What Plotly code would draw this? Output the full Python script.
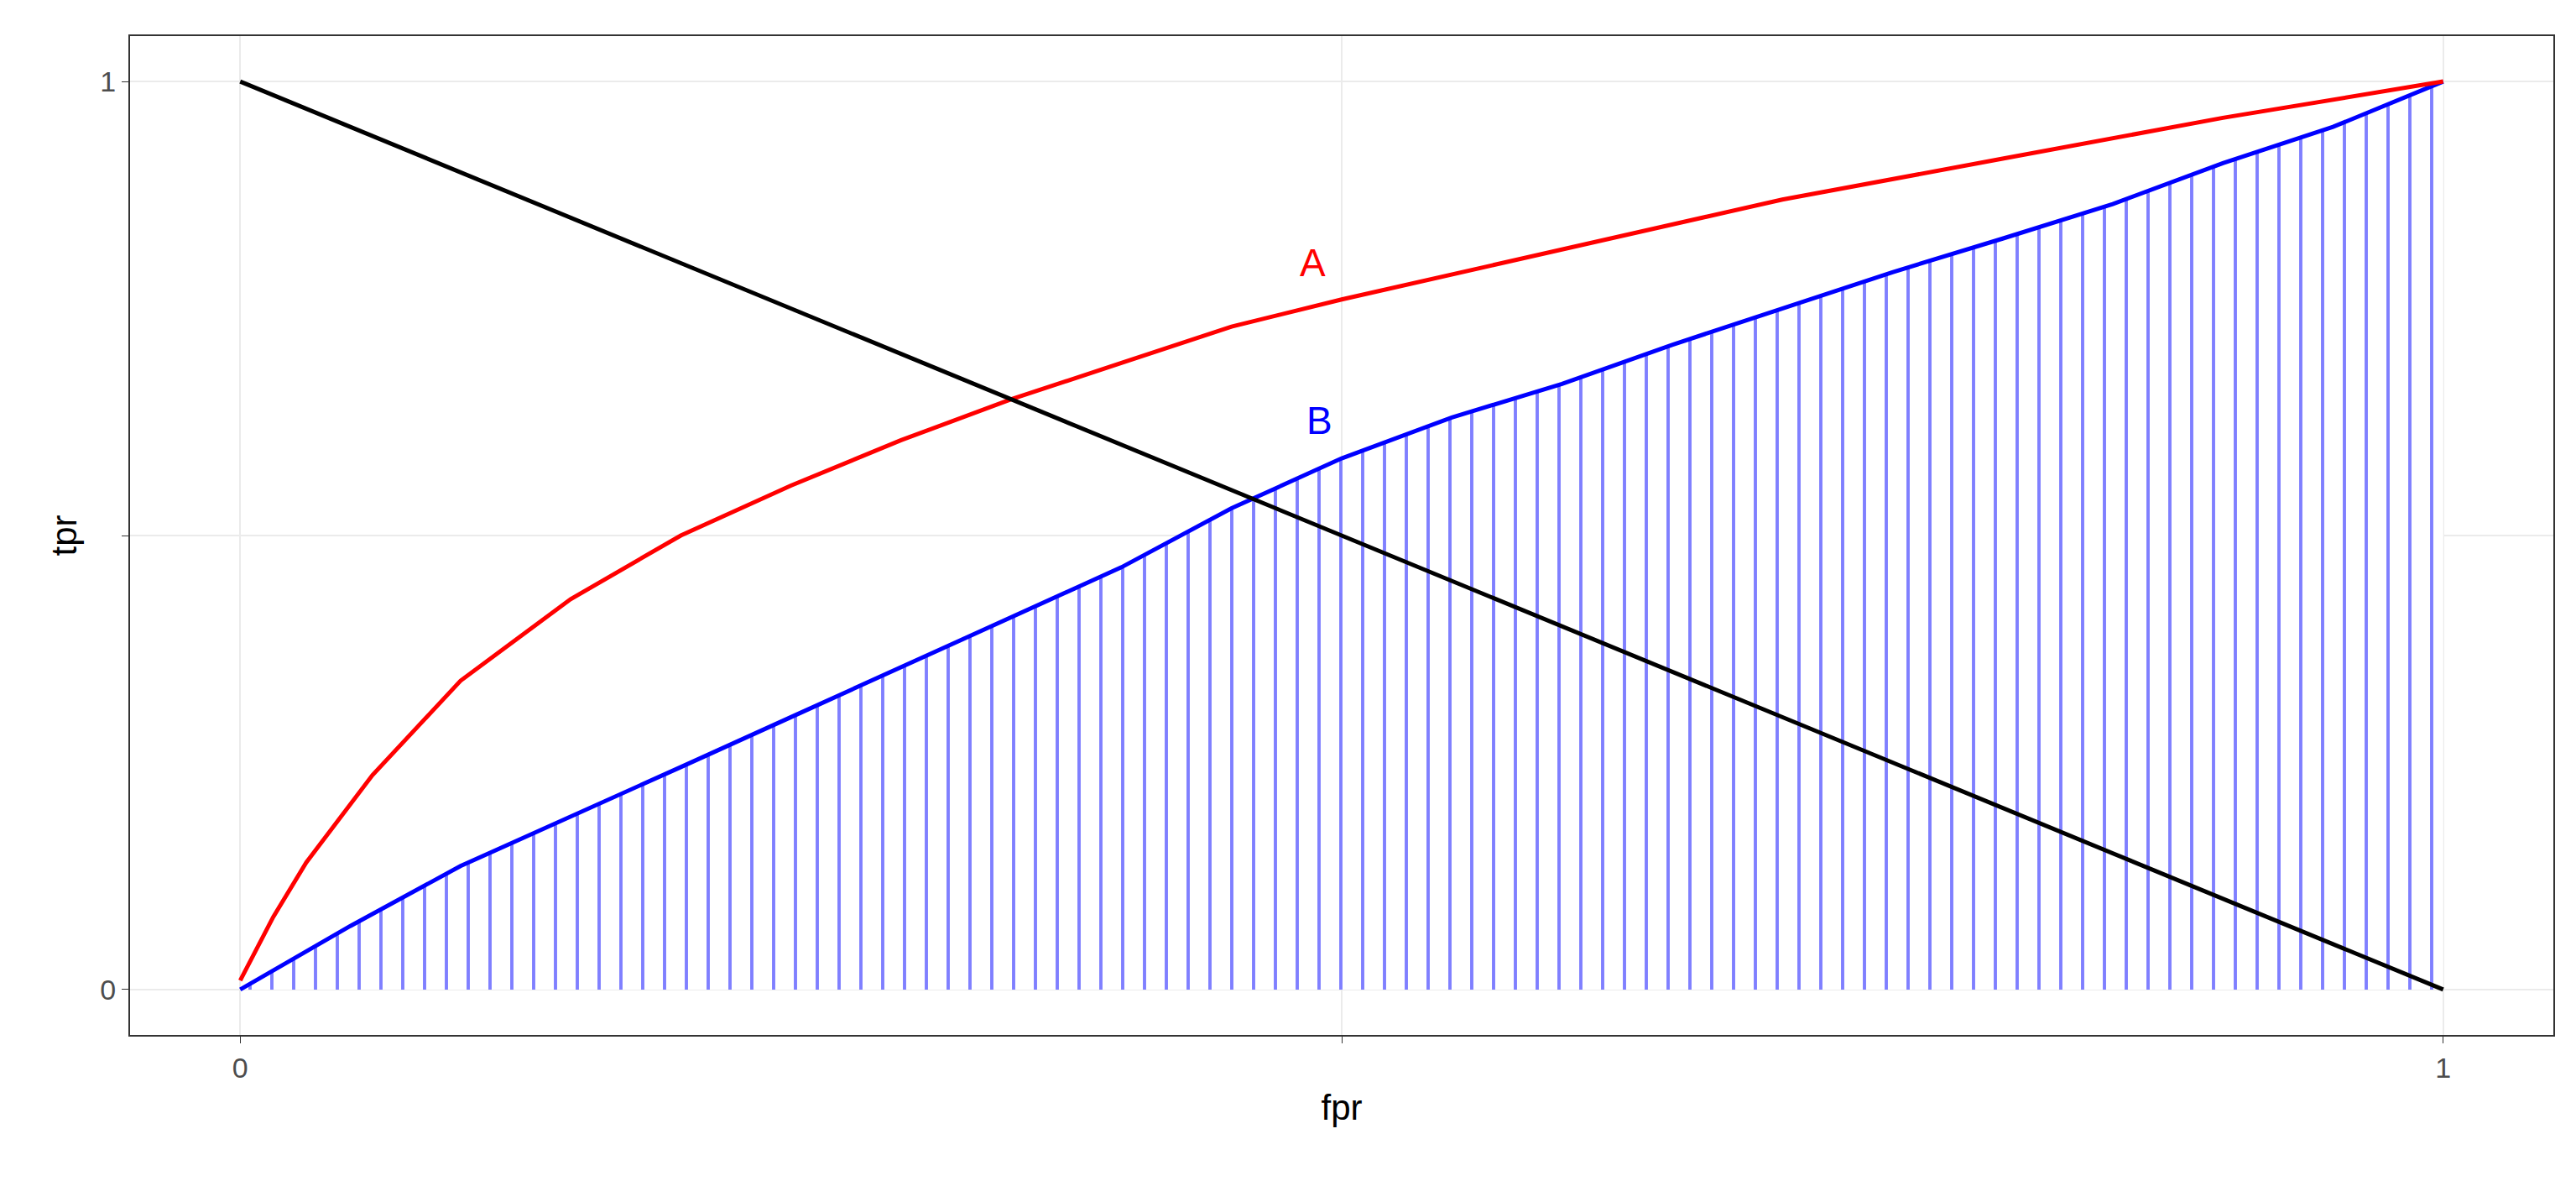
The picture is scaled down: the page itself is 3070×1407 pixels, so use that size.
import plotly.graph_objects as go

a_fpr = [0, 0.015, 0.03, 0.06, 0.1, 0.15, 0.2, 0.25, 0.3, 0.35, 0.4, 0.45, 0.5, 0.6, 0.7, 0.8, 0.9, 1.0]
a_tpr = [0.01, 0.08, 0.14, 0.236, 0.34, 0.43, 0.5, 0.555, 0.605, 0.65, 0.69, 0.73, 0.76, 0.815, 0.87, 0.915, 0.96, 1.0]
b_fpr = [0, 0.05, 0.1, 0.15, 0.2, 0.25, 0.3, 0.35, 0.4, 0.45, 0.5, 0.55, 0.6, 0.65, 0.7, 0.75, 0.8, 0.85, 0.9, 0.95, 1.0]
b_tpr = [0, 0.07, 0.136, 0.19, 0.245, 0.30, 0.355, 0.41, 0.465, 0.53, 0.585, 0.63, 0.667, 0.71, 0.75, 0.79, 0.827, 0.865, 0.91, 0.95, 1.0]
diag_x = [0, 1]
diag_y = [1, 0]
labels = [("A", 0.487, 0.80, "red"), ("B", 0.49, 0.627, "blue")]

fig = go.Figure()
fig.add_trace(go.Scatter(x=b_fpr, y=b_tpr, mode="lines", line=dict(color="blue", width=5),
                         fill="tozeroy", fillcolor="rgba(0,0,0,0)",
                         fillpattern=dict(shape="|", fgcolor="blue", bgcolor="white", size=26, solidity=0.15)))
fig.add_trace(go.Scatter(x=a_fpr, y=a_tpr, mode="lines", line=dict(color="red", width=5)))
fig.add_trace(go.Scatter(x=diag_x, y=diag_y, mode="lines", line=dict(color="black", width=5)))
for t, x, y, c in labels:
    fig.add_annotation(x=x, y=y, text=t, showarrow=False, font=dict(color=c, size=46, family="Liberation Sans"))

ax = dict(range=[-0.05, 1.05], tickvals=[0, 0.5, 1], ticktext=["0", "", "1"], showgrid=True,
          gridcolor="#ebebeb", gridwidth=2, zeroline=False, showline=True, mirror=True,
          linecolor="#333333", linewidth=2, ticks="outside", ticklen=8, tickcolor="#333333",
          tickfont=dict(size=34, color="#4d4d4d", family="Liberation Sans"))
fig.update_xaxes(**ax, title=dict(text="fpr", font=dict(size=42, color="black", family="Liberation Sans")))
fig.update_yaxes(**ax, title=dict(text="tpr", font=dict(size=42, color="black", family="Liberation Sans")))
fig.update_layout(width=3070, height=1407, showlegend=False, plot_bgcolor="white", paper_bgcolor="white",
                  margin=dict(l=147, r=35, t=35, b=182))
fig.write_html("out.html")
